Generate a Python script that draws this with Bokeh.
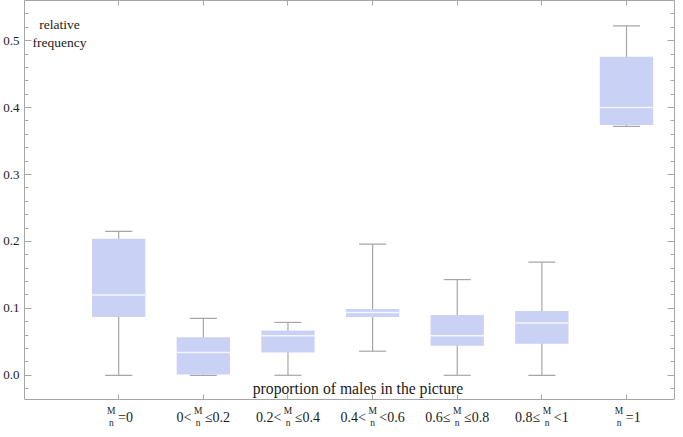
from bokeh.plotting import figure
from bokeh.models import (FixedTicker, LinearAxis, Label, PrintfTickFormatter, ColumnDataSource,
                          Range1d, CustomLabelingPolicy)
from bokeh.embed import file_html
from bokeh.resources import INLINE

# ---- data ----
positions = [1, 2, 3, 4, 5, 6, 7]
label_left = ["", "0<", "0.2<", "0.4<", "0.6\u2264", "0.8\u2264", ""]
label_right = ["=0", "\u22640.2", "\u22640.4", "<0.6", "\u22640.8", "<1", "=1"]
whisker_low = [0.000, 0.000, 0.000, 0.036, 0.000, 0.000, 0.372]
q1 = [0.087, 0.001, 0.034, 0.087, 0.044, 0.047, 0.374]
median = [0.120, 0.034, 0.059, 0.094, 0.059, 0.078, 0.400]
q3 = [0.204, 0.057, 0.067, 0.099, 0.090, 0.096, 0.476]
whisker_high = [0.215, 0.085, 0.079, 0.196, 0.143, 0.169, 0.522]
y_ticks = [0.0, 0.1, 0.2, 0.3, 0.4, 0.5]
y_minor = [round(-0.02 + 0.02 * k, 2) for k in range(30)]

FONT = "Liberation Serif"
GRAY = "#a6a6a6"
TXT = "#1a1a1a"
BOX = "#c9d1f5"

BOX_W = 0.63
CAP_W = 0.32
Y_AX = -0.036   # where the bottom frame line sits
Y_TOP = 0.56

p = figure(width=675, height=429, x_range=Range1d(-0.113, 7.567), y_range=Range1d(-0.081, Y_TOP),
           output_backend="svg", toolbar_location=None,
           min_border_left=22, min_border_right=1, min_border_top=0, min_border_bottom=0)
p.xgrid.visible = False
p.ygrid.visible = False
p.outline_line_color = None
p.background_fill_color = "white"
p.border_fill_color = "white"


def no_labels(ax):
    ax.major_label_text_font_size = "0px"
    ax.major_label_standoff = 0
    ax.major_label_policy = CustomLabelingPolicy(code="return []")


def style_y(ax):
    ax.ticker = FixedTicker(ticks=y_ticks, minor_ticks=y_minor)
    ax.bounds = (Y_AX, Y_TOP)
    ax.axis_line_color = GRAY
    ax.major_tick_in = 7
    ax.major_tick_out = 0
    ax.minor_tick_in = 4
    ax.minor_tick_out = 0
    ax.major_tick_line_color = GRAY
    ax.minor_tick_line_color = GRAY


def style_x(ax):
    ax.ticker = FixedTicker(ticks=positions)
    ax.axis_line_color = GRAY
    ax.major_tick_in = 5
    ax.major_tick_out = 0
    ax.minor_tick_line_color = None
    ax.major_tick_line_color = GRAY
    no_labels(ax)


# left axis
ya = p.yaxis[0]
style_y(ya)
ya.formatter = PrintfTickFormatter(format="%.1f")
ya.major_label_text_font = FONT
ya.major_label_text_font_size = "13px"
ya.major_label_text_color = TXT
ya.major_label_standoff = 5

# bottom axis, placed at the bottom of the box frame
xa = p.xaxis[0]
style_x(xa)
xa.fixed_location = Y_AX

# right axis
ra = LinearAxis()
style_y(ra)
no_labels(ra)
p.add_layout(ra, "right")

# top axis
ta = LinearAxis()
style_x(ta)
p.add_layout(ta, "above")

src = ColumnDataSource(dict(
    x=positions, lo=whisker_low, q1=q1, med=median, q3=q3, hi=whisker_high,
    cl=[v - CAP_W / 2 for v in positions], cr=[v + CAP_W / 2 for v in positions],
    bl=[v - BOX_W / 2 for v in positions], br=[v + BOX_W / 2 for v in positions],
))

p.segment(x0="x", y0="lo", x1="x", y1="hi", source=src, line_color=GRAY, line_width=1.2)
p.segment(x0="cl", y0="hi", x1="cr", y1="hi", source=src, line_color=GRAY, line_width=1.2)
p.segment(x0="cl", y0="lo", x1="cr", y1="lo", source=src, line_color=GRAY, line_width=1.2)
p.vbar(x="x", width=BOX_W, bottom="q1", top="q3", source=src, fill_color=BOX, line_color=None)
p.segment(x0="bl", y0="med", x1="br", y1="med", source=src, line_color="#f4f5fd", line_width=1.5)

# ---- category labels with stacked M/n fraction ----
FS = 14
CW = {"0": 0.5, "1": 0.5, "2": 0.5, "4": 0.5, "6": 0.5, "8": 0.5, ".": 0.25,
      "<": 0.564, "\u2264": 0.549, "=": 0.564}


def w(s):
    return sum(CW.get(c, 0.5) for c in s) * FS


FRAC_W = 8.5
PAD = 2.5
for pos, lt, rt in zip(positions, label_left, label_right):
    wl, wr = w(lt), w(rt)
    total = wl + PAD + FRAC_W + PAD + wr
    x0 = -total / 2
    if lt:
        p.add_layout(Label(x=pos, y=Y_AX, x_offset=x0 + wl, y_offset=-18, text=lt,
                           text_align="right", text_baseline="middle",
                           text_font=FONT, text_font_size=f"{FS}px", text_color=TXT))
    fc = x0 + wl + PAD + FRAC_W / 2
    p.add_layout(Label(x=pos, y=Y_AX, x_offset=fc, y_offset=-11.5, text="M",
                       text_align="center", text_baseline="middle",
                       text_font=FONT, text_font_size="9.5px", text_color=TXT))
    p.add_layout(Label(x=pos, y=Y_AX, x_offset=fc, y_offset=-24, text="n",
                       text_align="center", text_baseline="middle",
                       text_font=FONT, text_font_size="9.5px", text_color=TXT))
    p.add_layout(Label(x=pos, y=Y_AX, x_offset=x0 + wl + 2 * PAD + FRAC_W, y_offset=-18, text=rt,
                       text_align="left", text_baseline="middle",
                       text_font=FONT, text_font_size=f"{FS}px", text_color=TXT))

p.add_layout(Label(x=0.30, y=0.511, text="relative\nfrequency", text_align="center",
                   text_baseline="middle", text_font=FONT, text_font_size="13.5px",
                   text_color=TXT))
p.add_layout(Label(x=3.85, y=-0.020, text="proportion  of males in the picture",
                   text_align="center", text_baseline="middle", text_font=FONT,
                   text_font_size="15.7px", text_color=TXT))

open("out.html", "w").write(file_html(p, INLINE))
